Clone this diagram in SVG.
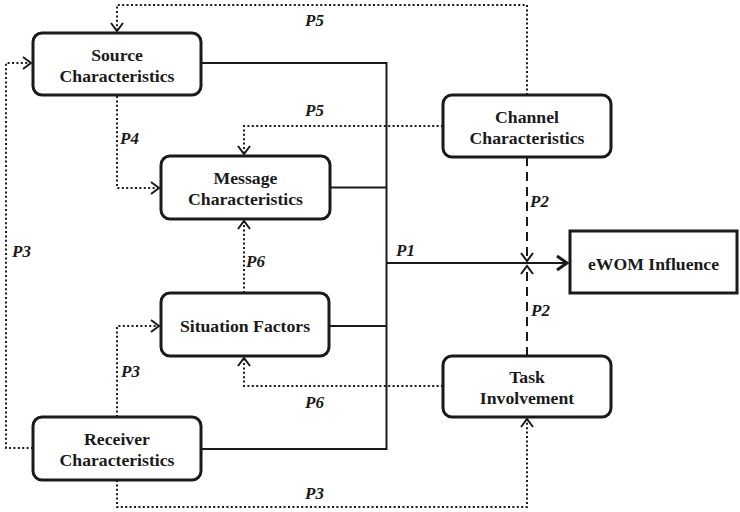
<svg xmlns="http://www.w3.org/2000/svg" width="740" height="512" viewBox="0 0 740 512">
<style>
.box{fill:#fff;stroke:#1a1a1a;stroke-width:3}
.t{font-family:"Liberation Serif","Times New Roman",serif;font-weight:bold;font-size:17.7px;fill:#1a1a1a;text-anchor:middle}
.lbl{font-family:"Liberation Serif","Times New Roman",serif;font-weight:bold;font-style:italic;font-size:17px;fill:#1a1a1a}
.solid{fill:none;stroke:#1a1a1a;stroke-width:2}
.dot{fill:none;stroke:#1a1a1a;stroke-width:2;stroke-dasharray:2 2.4}
.dash{fill:none;stroke:#1a1a1a;stroke-width:2;stroke-dasharray:9 6}
</style>
<defs>
<marker id="ah" markerUnits="userSpaceOnUse" markerWidth="14" markerHeight="16" viewBox="0 0 14 16" refX="11" refY="8" orient="auto">
<path d="M3,2 L11,8 L3,14" fill="none" stroke="#1a1a1a" stroke-width="2"/>
</marker>
<marker id="ahb" markerUnits="userSpaceOnUse" markerWidth="16" markerHeight="18" viewBox="0 0 16 18" refX="13" refY="9" orient="auto">
<path d="M3,2 L13,9 L3,16" fill="none" stroke="#1a1a1a" stroke-width="3"/>
</marker>
</defs>
<g id="connectors">
<path class="solid" d="M201,63 H386.5 M330,187.5 H386.5 M329,326 H386.5 M201,449 H386.5 M386.5,62 V450"/>
<path class="solid" d="M386.5,263 H567" stroke-width="2.5" marker-end="url(#ahb)"/>
<path class="dash" d="M527,157 V261" marker-end="url(#ah)"/>
<path class="dash" d="M527,356 V266" marker-end="url(#ah)"/>
<path class="dot" d="M527,95 V5 H117 V31" marker-end="url(#ah)"/>
<path class="dot" d="M443,126 H244 V154" marker-end="url(#ah)"/>
<path class="dot" d="M117,96 V188 H159" marker-end="url(#ah)"/>
<path class="dot" d="M33,448 H6 V63 H31" marker-end="url(#ah)"/>
<path class="dot" d="M244,293 V221" marker-end="url(#ah)"/>
<path class="dot" d="M443,386 H244 V358" marker-end="url(#ah)"/>
<path class="dot" d="M117,417 V326 H159" marker-end="url(#ah)"/>
<path class="dot" d="M117,480 V507 H527 V419" marker-end="url(#ah)"/>
<text class="lbl" x="305" y="26">P5</text>
<text class="lbl" x="305" y="116">P5</text>
<text class="lbl" x="120" y="144">P4</text>
<text class="lbl" x="12" y="257">P3</text>
<text class="lbl" x="246" y="267">P6</text>
<text class="lbl" x="396" y="256">P1</text>
<text class="lbl" x="530" y="207">P2</text>
<text class="lbl" x="531" y="316">P2</text>
<text class="lbl" x="121" y="377">P3</text>
<text class="lbl" x="305" y="408">P6</text>
<text class="lbl" x="305" y="499">P3</text>
</g>
<g id="source">
<rect class="box" x="33" y="33" width="168" height="62" rx="9"/>
<text class="t" x="117" y="61">Source</text>
<text class="t" x="117" y="82">Characteristics</text>
</g>
<g id="message">
<rect class="box" x="161" y="156" width="169" height="63" rx="9"/>
<text class="t" x="245.5" y="184">Message</text>
<text class="t" x="245.5" y="205">Characteristics</text>
</g>
<g id="situation">
<rect class="box" x="161" y="293" width="168" height="63" rx="9"/>
<text class="t" x="245" y="332">Situation Factors</text>
</g>
<g id="receiver">
<rect class="box" x="33" y="417" width="168" height="63" rx="9"/>
<text class="t" x="117" y="445">Receiver</text>
<text class="t" x="117" y="466">Characteristics</text>
</g>
<g id="channel">
<rect class="box" x="443" y="95" width="168" height="62" rx="9"/>
<text class="t" x="527" y="123">Channel</text>
<text class="t" x="527" y="144">Characteristics</text>
</g>
<g id="task">
<rect class="box" x="443" y="356" width="168" height="61" rx="9"/>
<text class="t" x="527" y="383">Task</text>
<text class="t" x="527" y="404">Involvement</text>
</g>
<g id="ewom">
<rect class="box" x="570" y="231" width="167" height="62"/>
<text class="t" x="653.5" y="270">eWOM Influence</text>
</g>
</svg>
